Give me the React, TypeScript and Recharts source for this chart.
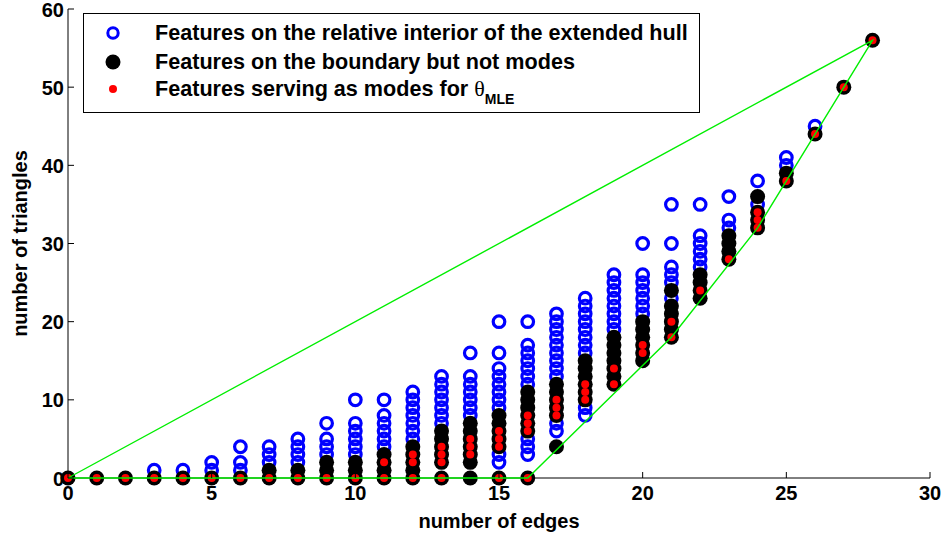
import React from "react";
import { ScatterChart, Scatter, XAxis, YAxis, Legend, Label } from "recharts";

// graphs on 8 nodes: (number of edges, number of triangles)
const edgeCounts = [0, 1, 2, 3, 4, 5, 6, 7, 8, 9, 10, 11, 12, 13, 14, 15, 16, 17, 18, 19, 20, 21, 22, 23, 24, 25, 26, 27, 28];

// triangle counts per edge count
const interiorTriangles: number[][] = [
  [], [], [], [1], [1], [1, 2], [1, 2, 4], [2, 3, 4], [2, 3, 4, 5], [3, 4, 5, 7],
  [3, 4, 5, 6, 7, 10], [4, 5, 6, 7, 8, 10], [5, 6, 7, 8, 9, 10, 11],
  [7, 8, 9, 10, 11, 12, 13], [8, 9, 10, 11, 12, 13, 16],
  [2, 3, 9, 10, 11, 12, 13, 14, 16, 20], [3, 4, 5, 12, 13, 14, 15, 16, 17, 20],
  [6, 7, 13, 14, 15, 16, 17, 18, 19, 20, 21], [8, 9, 16, 17, 18, 19, 20, 21, 22, 23],
  [19, 20, 21, 22, 23, 24, 25, 26], [21, 22, 23, 24, 25, 26, 30],
  [23, 25, 26, 27, 30, 35], [27, 28, 29, 30, 31, 35], [32, 33, 36], [35, 38],
  [40, 41], [45], [], [],
];

const boundaryTriangles: number[][] = [
  [0], [0], [0], [0], [0], [0], [0], [0, 1], [0, 1], [0, 1, 2], [0, 1, 2], [0, 1, 2, 3],
  [0, 1, 2, 3, 4], [0, 2, 3, 4, 5, 6], [0, 2, 3, 4, 5, 6, 7], [0, 4, 5, 6, 7, 8],
  [0, 6, 7, 8, 9, 10, 11], [4, 8, 9, 10, 11, 12], [10, 11, 12, 13, 14, 15],
  [12, 13, 14, 15, 16, 17, 18], [15, 16, 17, 18, 19, 20], [18, 19, 20, 21, 22, 24],
  [23, 24, 25, 26], [28, 29, 30, 31], [32, 33, 34, 36], [38, 39], [44], [50], [56],
];

const modeTriangles: number[][] = [
  [0], [0], [0], [0], [0], [0], [0], [0], [0], [0], [0], [0, 2], [0, 2, 3],
  [0, 2, 3, 4], [3, 4, 5], [0, 4, 5, 6], [0, 6, 7, 8], [8, 9, 10], [10, 11, 12],
  [12, 14], [16, 17], [18, 20], [24], [28], [32, 33, 34], [38], [44], [50], [56],
];

// extended hull outline
const hullEdges = [0, 16, 21, 24, 28, 0];
const hullTriangles = [0, 0, 18, 32, 56, 0];

const xTicks = [0, 5, 10, 15, 20, 25, 30];
const yTicks = [0, 10, 20, 30, 40, 50, 60];

const legendLabels = [
  "Features on the relative interior of the extended hull",
  "Features on the boundary but not modes",
  "Features serving as modes for ",
];

const toPoints = (sets: number[][]) =>
  edgeCounts.flatMap((e, i) => sets[i].map((t) => ({ edges: e, triangles: t })));

const interiorData = toPoints(interiorTriangles);
const boundaryData = toPoints(boundaryTriangles);
const modeData = toPoints(modeTriangles);
const hullData = hullEdges.map((e, i) => ({ edges: e, triangles: hullTriangles[i] }));

const FONT = "'Liberation Sans', Arial, Helvetica, sans-serif";
const FS = 20;

const BlueRing = (p: any) => (
  <circle cx={p.cx} cy={p.cy} r={5.8} fill="none" stroke="#0000ff" strokeWidth={3.2} />
);
const BlackDot = (p: any) => <circle cx={p.cx} cy={p.cy} r={7.5} fill="#000" />;
const RedDot = (p: any) => <circle cx={p.cx} cy={p.cy} r={4} fill="#ff0000" />;
const NoMark = () => <g />;

const BottomTick = ({ x, y, payload }: any) => (
  <g>
    <line x1={x} y1={y} x2={x} y2={y - 6} stroke="#000" />
    <text x={x} y={y + 22} textAnchor="middle" fontSize={FS} fontWeight="bold" fontFamily={FONT} fill="#000">
      {payload.value}
    </text>
  </g>
);

const LeftTick = ({ x, y, payload }: any) => (
  <g>
    <line x1={x} y1={y} x2={x + 6} y2={y} stroke="#000" />
    <text x={x - 4} y={y + 7.5} textAnchor="end" fontSize={FS} fontWeight="bold" fontFamily={FONT} fill="#000">
      {payload.value}
    </text>
  </g>
);

const TopTick = ({ x, y }: any) => <line x1={x} y1={y} x2={x} y2={y + 6} stroke="#000" />;
const RightTick = ({ x, y }: any) => <line x1={x} y1={y} x2={x - 6} y2={y} stroke="#000" />;

const XTitle = ({ viewBox }: any) => (
  <text x={viewBox.x + viewBox.width / 2} y={viewBox.y + 50} textAnchor="middle" fontSize={FS} fontWeight="bold" fontFamily={FONT} fill="#000">
    number of edges
  </text>
);

const YTitle = ({ viewBox }: any) => {
  const cy = viewBox.y + viewBox.height / 2;
  return (
    <text x={27} y={cy} transform={`rotate(-90 27 ${cy})`} textAnchor="middle" fontSize={FS} fontWeight="bold" fontFamily={FONT} fill="#000">
      number of triangles
    </text>
  );
};

const LegendBox = () => {
  const row = (top: number): React.CSSProperties => ({ position: "absolute", left: 0, top, height: 28, display: "flex", alignItems: "center", whiteSpace: "nowrap" });
  const mark: React.CSSProperties = { width: 58, display: "flex", justifyContent: "center" };
  return (
    <div style={{ position: "relative", width: 615, height: 98, border: "1px solid #000", background: "#fff", fontFamily: FONT, fontWeight: "bold", fontSize: 21.6, color: "#000" }}>
      <div style={row(5)}>
        <div style={mark}>
          <svg width={16} height={16}><circle cx={8} cy={8} r={5.2} fill="none" stroke="#0000ff" strokeWidth={3} /></svg>
        </div>
        <span style={{ marginLeft: 13 }}>{legendLabels[0]}</span>
      </div>
      <div style={row(34)}>
        <div style={mark}>
          <svg width={16} height={16}><circle cx={8} cy={8} r={7.5} fill="#000" /></svg>
        </div>
        <span style={{ marginLeft: 13 }}>{legendLabels[1]}</span>
      </div>
      <div style={row(61)}>
        <div style={mark}>
          <svg width={16} height={16}><circle cx={8} cy={8} r={4} fill="#ff0000" /></svg>
        </div>
        <span style={{ marginLeft: 13 }}>
          {legendLabels[2]}
          <span style={{ fontFamily: "'Liberation Serif', serif", fontWeight: "normal", fontSize: 22 }}>θ</span>
          <span style={{ fontSize: 14, position: "relative", top: 8 }}>MLE</span>
        </span>
      </div>
    </div>
  );
};

export default function App() {
  return (
    <div style={{ position: "absolute", left: 0, top: 0, width: 946, height: 540, background: "#fff" }}>
      <ScatterChart width={946} height={540} margin={{ top: 9, right: 16, bottom: 0, left: 0 }}>
        <XAxis
          dataKey="edges"
          type="number"
          domain={[0, 30]}
          ticks={xTicks}
          height={62}
          tickSize={0}
          tickMargin={0}
          tickLine={false}
          axisLine={{ stroke: "#000" }}
          tick={<BottomTick />}
          label={<Label content={<XTitle />} />}
          interval={0}
        />
        <XAxis
          xAxisId="top"
          orientation="top"
          type="number"
          domain={[0, 30]}
          ticks={xTicks}
          height={0}
          tickSize={0}
          tickMargin={0}
          tickLine={false}
          axisLine={{ stroke: "#000" }}
          tick={<TopTick />}
          interval={0}
        />
        <YAxis
          dataKey="triangles"
          type="number"
          domain={[0, 60]}
          ticks={yTicks}
          width={68}
          tickSize={0}
          tickMargin={0}
          tickLine={false}
          axisLine={{ stroke: "#000" }}
          tick={<LeftTick />}
          label={<Label content={<YTitle />} />}
          interval={0}
        />
        <YAxis
          yAxisId="right"
          orientation="right"
          type="number"
          domain={[0, 60]}
          ticks={yTicks}
          width={0}
          tickSize={0}
          tickMargin={0}
          tickLine={false}
          axisLine={{ stroke: "#000" }}
          tick={<RightTick />}
          interval={0}
        />
        <Legend
          layout="vertical"
          align="center"
          verticalAlign="middle"
          content={<LegendBox />}
          wrapperStyle={{ left: 83, top: 13, width: 617, height: 100 }}
        />
        <Scatter name="interior" data={interiorData} shape={BlueRing} isAnimationActive={false} />
        <Scatter name="boundary" data={boundaryData} shape={BlackDot} isAnimationActive={false} />
        <Scatter name="modes" data={modeData} shape={RedDot} isAnimationActive={false} />
        <Scatter
          name="hull"
          data={hullData}
          shape={NoMark}
          line={{ stroke: "#00ee00", strokeWidth: 1.4 }}
          lineType="joint"
          isAnimationActive={false}
        />
      </ScatterChart>
    </div>
  );
}
